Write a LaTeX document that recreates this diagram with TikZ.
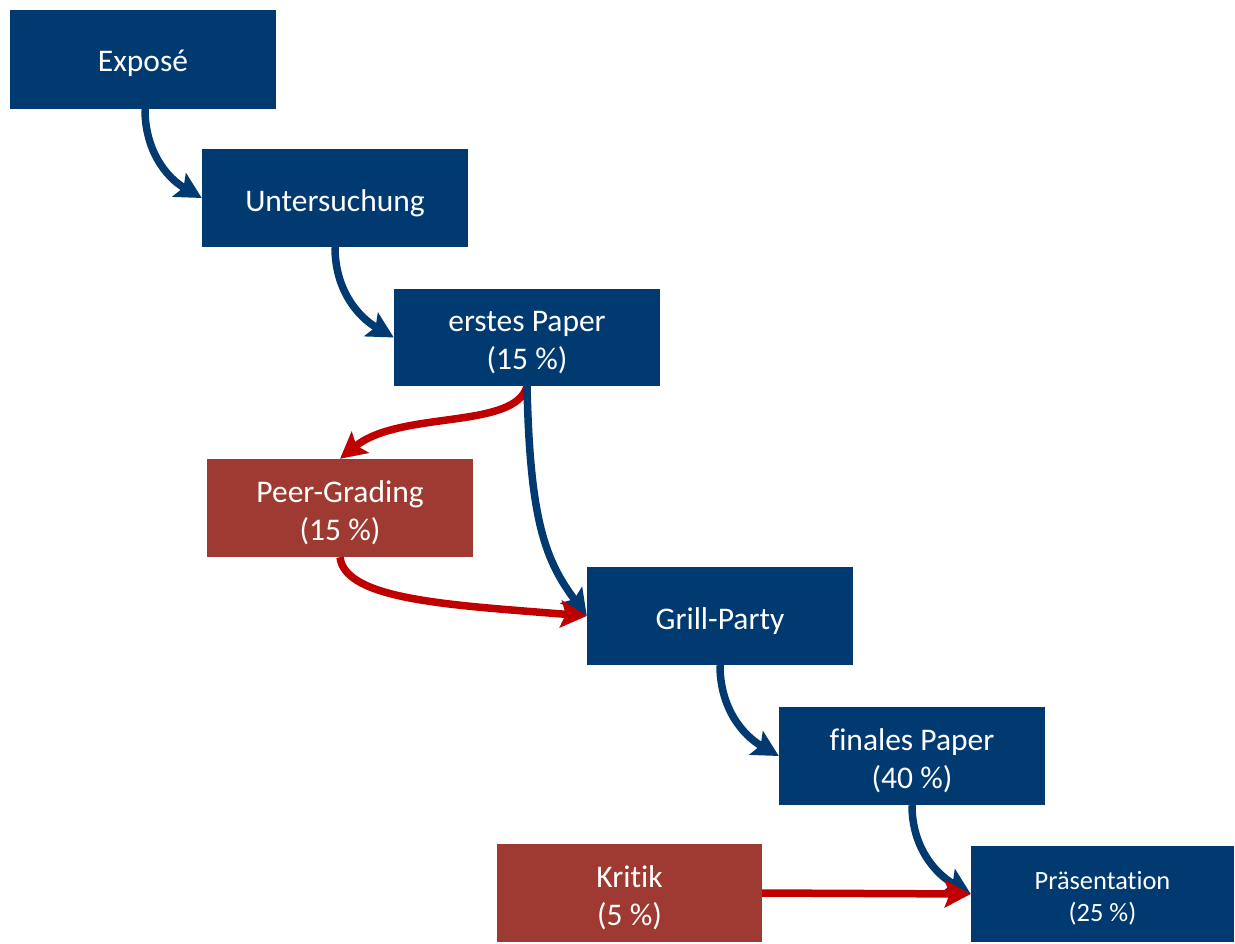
\documentclass[tikz,border=0pt]{standalone}
\usepackage{fontspec}
\setmainfont{Carlito}[Ligatures={NoCommon}]
\usetikzlibrary{arrows.meta}
\definecolor{boxblue}{RGB}{0,58,112}
\definecolor{boxred}{RGB}{158,58,50}
\definecolor{arrred}{RGB}{192,0,0}
\tikzset{
  stage/.style={rectangle, fill=boxblue, inner sep=0pt, minimum width=266pt, minimum height=98pt},
  extra/.style={stage, fill=boxred},
  stagetext/.style={text=white, inner sep=0pt, align=center, font=\fontsize{31.5}{38}\selectfont},
  smalltext/.style={stagetext, font=\fontsize{26.4}{31.5}\selectfont},
  flowblue/.style={draw=boxblue, line width=7.5pt, -{Stealth[length=26pt,width=27pt,inset=5pt]}},
  flowred/.style={draw=arrred, line width=7.5pt, -{Stealth[length=26pt,width=27pt,inset=5pt]}}
}
\begin{document}
\begin{tikzpicture}[x=1pt,y=1pt]
\useasboundingbox (0,0) rectangle (1235,-943);
\node[stage, minimum height=99pt] (expose) at (143,-59.5) {};
\node[stage] (unters) at (335,-198) {};
\node[stage, minimum height=97pt] (erstes) at (527,-337.5) {};
\node[extra] (peer) at (340,-508) {};
\node[stage] (grill) at (720,-616) {};
\node[stage] (finales) at (912,-756) {};
\node[extra, minimum width=265pt] (kritik) at (629.5,-893) {};
\node[stage, minimum width=263pt, minimum height=96pt] (praes) at (1102.5,-894) {};

\node[stagetext] (exposeT) at ([yshift=-4pt]expose.center) {Exposé};
\node[stagetext] (untersT) at ([yshift=-5pt]unters.center) {Untersuchung};
\node[stagetext] (erstesT) at ([yshift=-5pt]erstes.center) {erstes Paper\\(15~\%)};
\node[stagetext] (peerT) at ([yshift=-5pt]peer.center) {Peer-Grading\\(15~\%)};
\node[stagetext] (grillT) at ([yshift=-5pt]grill.center) {Grill-Party};
\node[stagetext] (finalesT) at ([yshift=-5pt]finales.center) {finales Paper\\(40~\%)};
\node[stagetext] (kritikT) at ([yshift=-5pt]kritik.center) {Kritik\\(5~\%)};
\node[smalltext] (praesT) at ([yshift=-4pt]praes.center) {Präsentation\\(25~\%)};

\draw[flowblue] ([xshift=2pt]expose.south) to[out=-90,in=150] (unters.west);
\draw[flowblue] (unters.south) to[out=-90,in=150] (erstes.west);
\draw[flowred] (erstes.south) .. controls (515,-430) and (400,-410) .. (peer.north);
\draw[flowblue] (erstes.south) .. controls (530,-520) and (545,-560) .. (grill.west);
\draw[flowred] (peer.south) .. controls (345,-600) and (450,-605) .. (grill.west);
\draw[flowblue] (grill.south) to[out=-90,in=150] (finales.west);
\draw[flowblue] (finales.south) to[out=-90,in=150] (praes.west);
\draw[flowred] (kritik.east) -- (praes.west);
\end{tikzpicture}
\end{document}
